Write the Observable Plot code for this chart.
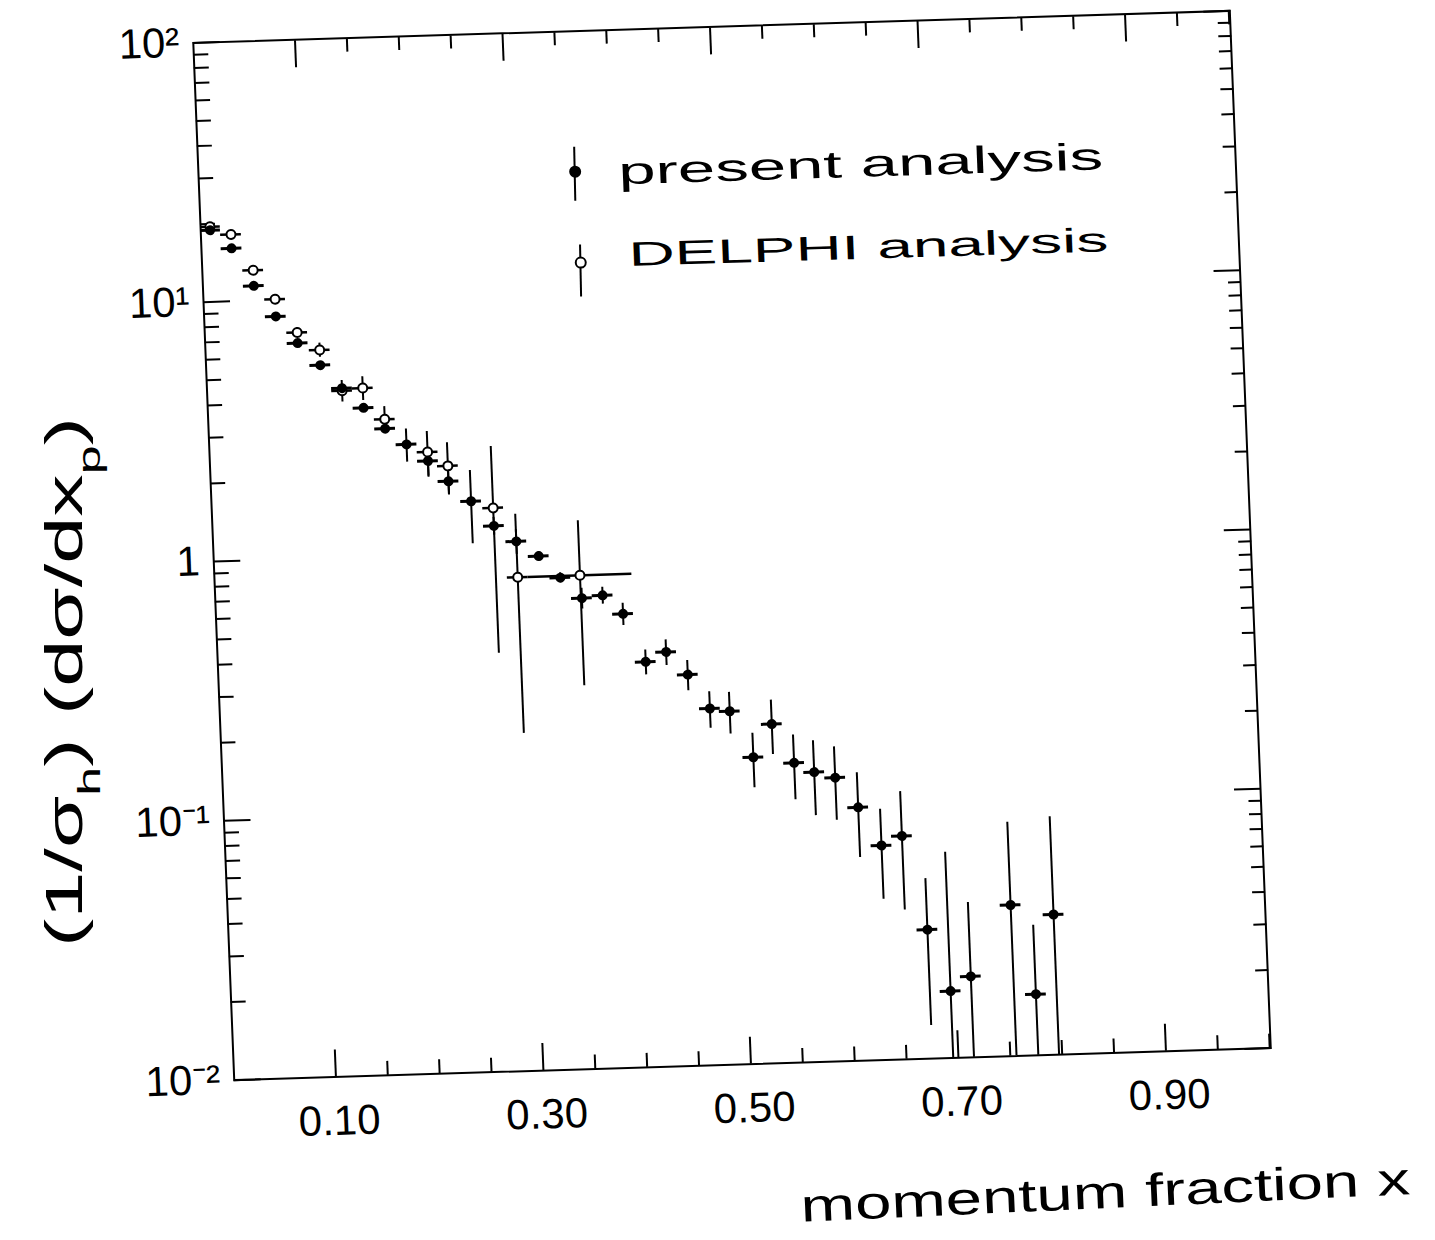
<!DOCTYPE html>
<html>
<head>
<meta charset="utf-8">
<script src="https://cdn.jsdelivr.net/npm/d3@7"></script>
<script src="https://cdn.jsdelivr.net/npm/@observablehq/plot@0.6"></script>
<style>
html, body { margin: 0; padding: 0; background: #fff; }
#page { position: relative; width: 1435px; height: 1240px; overflow: hidden; background: #fff; }
#paper { position: absolute; left: 0; top: 0; width: 1435px; height: 1240px;
  transform-origin: 731.5px 545px; transform: rotate(-1.77deg) skewX(0.49deg); }
#paper svg { position: absolute; left: 0; top: 0; overflow: visible; }
#titles { position: absolute; left: 0; top: 0; }
</style>
</head>
<body>
<div id="page">
  <div id="paper"></div>
  <svg id="titles" width="1435" height="1240"></svg>
</div>
<script>
// ---- data: present analysis (filled points) ----
const presentX = [0.011,0.031,0.051,0.071,0.091,0.112,0.132,0.152,0.172,0.192,0.212,0.231,0.252,0.273,0.294,0.315,0.335,0.355,0.375,0.394,0.414,0.434,0.454,0.474,0.493,0.514,0.533,0.553,0.572,0.592,0.613,0.634,0.654,0.675,0.695,0.715,0.756,0.777,0.797];
const presentY = [18.9,16.0,11.4,8.64,6.78,5.54,4.49,3.75,3.10,2.68,2.30,1.91,1.59,1.27,1.10,0.96,0.788,0.653,0.666,0.562,0.365,0.396,0.322,0.237,0.230,0.152,0.203,0.143,0.131,0.124,0.0947,0.0671,0.0726,0.0314,0.0181,0.0205,0.0382,0.0172,0.0347];
const presentErr = [0.4,0.3,0.2,0.15,0.12,0.1,0.12,0.1,0.1,0.39,0.29,0.21,0.5,0.1,0.12,0.04,0.035,0.06,0.05,0.055,0.04,0.045,0.043,0.038,0.042,0.036,0.048,0.040,0.042,0.039,0.034,0.0255,0.035,0.018,0.044,0.019,0.0415,0.0145,0.048];
const presentXErr = 0.01;

// ---- data: DELPHI analysis (open points) ----
const delphiX = [0.011,0.031,0.051,0.071,0.091,0.112,0.132,0.152,0.172,0.212,0.231,0.273,0.294,0.354];
const delphiY = [19.5,18.1,13.1,10.07,7.45,6.34,4.39,4.47,3.37,2.49,2.19,1.49,0.80,0.80];
const delphiErr = [0.6,0.5,0.4,0.35,0.33,0.4,0.42,0.47,0.4,0.5,0.5,1.08,0.6,0.5];
const delphiXErr = [0.01,0.01,0.01,0.01,0.01,0.01,0.01,0.01,0.01,0.01,0.01,0.01,0.01,0.05];

// ---- ticks ----
const xMajorTicks = [0.1,0.3,0.5,0.7,0.9];
const xTickLabels = ["0.10","0.30","0.50","0.70","0.90"];
const xMinorTicks = [0.15,0.2,0.25,0.35,0.4,0.45,0.55,0.6,0.65,0.75,0.8,0.85,0.95,1.0];
const yMajorTicks = [0.01,0.1,1,10,100];
const yTickLabels = ["10\u207B\u00B2","10\u207B\u00B9","1","10\u00B9","10\u00B2"];
const yMinorMultipliers = [2,3,4,5,6,7,8,9];
const yDecades = [0.01,0.1,1,10];

// ---- texts ----
const legendPresent = "present analysis";
const legendDelphi = "DELPHI analysis";
const xTitle = "momentum fraction x";

const yMinorTicks = [];
for (const d of yDecades) for (const m of yMinorMultipliers) yMinorTicks.push(+(d*m).toPrecision(3));

const present = presentX.map((x, i) => ({x, y: presentY[i], e: presentErr[i], xe: presentXErr}));
const delphi = delphiX.map((x, i) => ({x, y: delphiY[i], e: delphiErr[i], xe: delphiXErr[i]}));
const lo = d => Math.max(d.y - d.e, 0.003);
const hi = d => d.y + d.e;

const none = () => "";
const tickOpts = {tickFormat: none, label: null, strokeWidth: 2};

const chart = Plot.plot({
  width: 1435, height: 1240,
  marginLeft: 213, marginRight: 185, marginTop: 26, marginBottom: 176,
  style: {fontFamily: "'Liberation Sans', Arial, sans-serif", background: "transparent", color: "#000", overflow: "visible"},
  x: {domain: [0.002, 1.001], label: null},
  y: {type: "log", domain: [0.01, 100], label: null},
  marks: [
    Plot.axisX({anchor: "bottom", ticks: xMajorTicks, tickSize: -27, ...tickOpts}),
    Plot.axisX({anchor: "bottom", ticks: xMinorTicks, tickSize: -14, ...tickOpts}),
    Plot.axisX({anchor: "top", ticks: xMajorTicks, tickSize: -27, ...tickOpts}),
    Plot.axisX({anchor: "top", ticks: xMinorTicks, tickSize: -13, ...tickOpts}),
    Plot.axisY({anchor: "left", ticks: yMajorTicks, tickSize: -27, ...tickOpts}),
    Plot.axisY({anchor: "left", ticks: yMinorTicks, tickSize: -15, ...tickOpts}),
    Plot.axisY({anchor: "right", ticks: yMajorTicks, tickSize: -27, ...tickOpts}),
    Plot.axisY({anchor: "right", ticks: yMinorTicks, tickSize: -13, ...tickOpts}),
    Plot.axisX({anchor: "bottom", ticks: xMajorTicks, tickSize: 0, tickPadding: 28, fontSize: 42,
      letterSpacing: 3, dx: 2,
      tickFormat: d => xTickLabels[xMajorTicks.indexOf(d)], label: null}),
    Plot.axisY({anchor: "left", ticks: yMajorTicks, tickSize: 0, tickPadding: 14, fontSize: 42,
      tickFormat: d => yTickLabels[yMajorTicks.indexOf(d)], label: null}),
    Plot.frame({strokeWidth: 2}),
    Plot.ruleX(delphi, {x: "x", y1: lo, y2: hi, strokeWidth: 2, clip: true}),
    Plot.ruleY(delphi, {y: "y", x1: d => d.x - d.xe, x2: d => d.x + d.xe, strokeWidth: 2.5, clip: true}),
    Plot.ruleX(present, {x: "x", y1: lo, y2: hi, strokeWidth: 2, clip: true}),
    Plot.ruleY(present, {y: "y", x1: d => d.x - d.xe, x2: d => d.x + d.xe, strokeWidth: 3, clip: true}),
    Plot.dot(delphi, {x: "x", y: "y", r: 4.5, fill: "white", stroke: "black", strokeWidth: 2}),
    Plot.dot(present, {x: "x", y: "y", r: 5, fill: "black", stroke: "none"})
  ]
});
document.getElementById("paper").appendChild(chart);

// ---- legend (handwritten on the paper) ----
const NS = "http://www.w3.org/2000/svg";
function el(parent, tag, attrs, text) {
  const e = document.createElementNS(NS, tag);
  for (const k in attrs) e.setAttribute(k, attrs[k]);
  if (text != null) e.textContent = text;
  parent.appendChild(e);
  return e;
}
const leg = document.createElementNS(NS, "svg");
leg.setAttribute("width", 1435); leg.setAttribute("height", 1240);
leg.style.fontFamily = "'Liberation Sans', Arial, sans-serif";
document.getElementById("paper").appendChild(leg);
el(leg, "line", {x1: 590, x2: 589, y1: 142, y2: 196, stroke: "black", "stroke-width": 2});
el(leg, "circle", {cx: 590, cy: 167, r: 6, fill: "black"});
el(leg, "text", {x: 633, y: 181, "font-size": 38, textLength: 485, lengthAdjust: "spacingAndGlyphs"}, legendPresent);
el(leg, "line", {x1: 592, x2: 591, y1: 240, y2: 292, stroke: "black", "stroke-width": 2});
el(leg, "circle", {cx: 592, cy: 258, r: 5, fill: "white", stroke: "black", "stroke-width": 2});
el(leg, "text", {x: 640, y: 263, "font-size": 34, textLength: 480, lengthAdjust: "spacingAndGlyphs"}, legendDelphi);

// ---- axis titles (handwritten) ----
const titles = document.getElementById("titles");
titles.style.fontFamily = "'Liberation Sans', Arial, sans-serif";
const yt = el(titles, "text", {transform: "translate(82,682) rotate(-90)", "text-anchor": "middle", "font-size": 52,
  textLength: 530, lengthAdjust: "spacingAndGlyphs"});
yt.appendChild(document.createTextNode("(1/\u03C3"));
el(yt, "tspan", {"baseline-shift": "sub", "font-size": 32}, "h");
yt.appendChild(document.createTextNode(") (d\u03C3/dx"));
el(yt, "tspan", {"baseline-shift": "sub", "font-size": 32}, "p");
yt.appendChild(document.createTextNode(")"));
el(titles, "text", {transform: "translate(1106,1208) rotate(-2.6)", "text-anchor": "middle", "font-size": 46,
  textLength: 610, lengthAdjust: "spacingAndGlyphs"}, xTitle);
</script>
</body>
</html>
